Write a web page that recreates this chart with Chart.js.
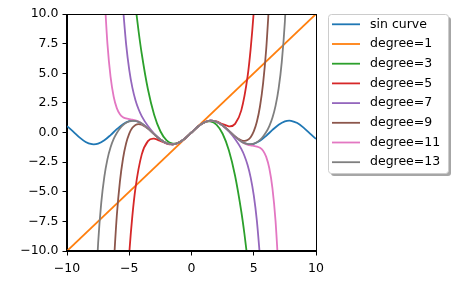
<!DOCTYPE html>
<html>
<head>
<meta charset="utf-8">
<script src="https://cdn.jsdelivr.net/npm/chart.js@4/dist/chart.umd.min.js"></script>
<style>
  html, body { margin: 0; padding: 0; background: #fff; }
</style>
</head>
<body>
<canvas id="chart" width="465" height="288"></canvas>
<script>
// series labels and colours
const labels = ['sin curve', 'degree=1', 'degree=3', 'degree=5', 'degree=7', 'degree=9', 'degree=11', 'degree=13'];
const colors = ['#1f77b4', '#ff7f0e', '#2ca02c', '#d62728', '#9467bd', '#8c564b', '#e377c2', '#7f7f7f'];

// ticks
const xTicks = [-10, -5, 0, 5, 10];
const xTickLabels = ['\u221210', '\u22125', '0', '5', '10'];
const yTicks = [-10, -7.5, -5, -2.5, 0, 2.5, 5, 7.5, 10];
const yTickLabels = ['\u221210.0', '\u22127.5', '\u22125.0', '\u22122.5', '0.0', '2.5', '5.0', '7.5', '10.0'];

// [x, y] points
const sinCurve = [
    [-10, 0.544], [-9.5, 0.0752], [-9, -0.4121], [-8.5, -0.7985], [-8, -0.9894], [-7.854, -1],
    [-7.5, -0.938], [-7, -0.657], [-6.5, -0.2151], [-6, 0.2794], [-5.5, 0.7055], [-5, 0.9589],
    [-4.7124, 1], [-4.5, 0.9775], [-4, 0.7568], [-3.5, 0.3508], [-3, -0.1411], [-2.5, -0.5985],
    [-2, -0.9093], [-1.5708, -1], [-1.5, -0.9975], [-1, -0.8415], [-0.5, -0.4794], [0, 0],
    [0.5, 0.4794], [1, 0.8415], [1.5, 0.9975], [1.5708, 1], [2, 0.9093], [2.5, 0.5985],
    [3, 0.1411], [3.5, -0.3508], [4, -0.7568], [4.5, -0.9775], [4.7124, -1], [5, -0.9589],
    [5.5, -0.7055], [6, -0.2794], [6.5, 0.2151], [7, 0.657], [7.5, 0.938], [7.854, 1],
    [8, 0.9894], [8.5, 0.7985], [9, 0.4121], [9.5, -0.0752], [10, -0.544]
];
const degree1 = [[-10, -10], [10, 10]];
const degree3 = [
    [-4.5, 10.6875], [-4.25, 8.5443], [-4, 6.6667], [-3.5, 3.6458], [-3, 1.5], [-2.5, 0.1042],
    [-2, -0.6667], [-1.5, -0.9375], [-1.4142, -0.9428], [-1, -0.8333], [-0.5, -0.4792], [0, 0],
    [0.5, 0.4792], [1, 0.8333], [1.4142, 0.9428], [1.5, 0.9375], [2, 0.6667], [2.5, -0.1042],
    [3, -1.5], [3.5, -3.6458], [4, -6.6667], [4.25, -8.5443], [4.5, -10.6875]
];
const degree5 = [
    [-5.25, -14.3693], [-5, -10.2083], [-4.75, -7.0386], [-4.5, -4.6898], [-4, -1.8667], [-3.5, -0.731],
    [-3.0764, -0.5203], [-3, -0.525], [-2.5, -0.7096], [-2, -0.9333], [-1.5923, -1.0047], [-1.5, -1.0008],
    [-1, -0.8417], [-0.5, -0.4794], [0, 0],
    [0.5, 0.4794], [1, 0.8417], [1.5, 1.0008], [1.5923, 1.0047], [2, 0.9333], [2.5, 0.7096],
    [3, 0.525], [3.0764, 0.5203], [3.5, 0.731], [4, 1.8667], [4.5, 4.6898], [4.75, 7.0386],
    [5, 10.2083], [5.25, 14.3693]
];
const degree7 = [
    [-5.5, 10.4959], [-5.25, 7.4421], [-5, 5.2927], [-4.75, 3.7864], [-4.5, 2.7242], [-4.25, 1.9588],
    [-4, 1.3841], [-3.5, 0.5456], [-3, -0.0911], [-2.5, -0.5885], [-2, -0.9079], [-1.5, -0.9974],
    [-1, -0.8415], [-0.5, -0.4794], [0, 0],
    [0.5, 0.4794], [1, 0.8415], [1.5, 0.9974], [2, 0.9079], [2.5, 0.5885], [3, 0.0911],
    [3.5, -0.5456], [4, -1.3841], [4.25, -1.9588], [4.5, -2.7242], [4.75, -3.7864], [5, -5.2927],
    [5.25, -7.4421], [5.5, -10.4959]
];
const degree9 = [
    [-6.25, -11.2195], [-6, -7.0283], [-5.75, -4.1455], [-5.5, -2.1953], [-5.25, -0.9076], [-5, -0.0896],
    [-4.75, 0.3942], [-4.5, 0.639], [-4.25, 0.7121], [-4, 0.6617], [-3.5, 0.3284], [-3, -0.1453],
    [-2.5, -0.5991], [-2, -0.9094], [-1.5, -0.9975], [-1, -0.8415], [-0.5, -0.4794], [0, 0],
    [0.5, 0.4794], [1, 0.8415], [1.5, 0.9975], [2, 0.9094], [2.5, 0.5991], [3, 0.1453],
    [3.5, -0.3284], [4, -0.6617], [4.25, -0.7121], [4.5, -0.639], [4.75, -0.3942], [5, 0.0896],
    [5.25, 0.9076], [5.5, 2.1953], [5.75, 4.1455], [6, 7.0283], [6.25, 11.2195]
];
const degree11 = [
    [-7, 11.8423], [-6.75, 7.4538], [-6.5, 4.6924], [-6.25, 3.021], [-6, 2.0605], [-5.75, 1.5456],
    [-5.5, 1.2948], [-5.25, 1.1846], [-5, 1.1336], [-4.75, 1.09], [-4.5, 1.0229], [-4.25, 0.9168],
    [-4, 0.7668], [-3.5, 0.3526], [-3, -0.1409], [-2.5, -0.5985], [-2, -0.9093], [-1.5, -0.9975],
    [-1, -0.8415], [-0.5, -0.4794], [0, 0],
    [0.5, 0.4794], [1, 0.8415], [1.5, 0.9975], [2, 0.9093], [2.5, 0.5985], [3, 0.1409],
    [3.5, -0.3526], [4, -0.7668], [4.25, -0.9168], [4.5, -1.0229], [4.75, -1.09], [5, -1.1336],
    [5.25, -1.1846], [5.5, -1.2948], [5.75, -1.5456], [6, -2.0605], [6.25, -3.021], [6.5, -4.6924],
    [6.75, -7.4538], [7, -11.8423]
];
const degree13 = [
    [-7.75, -14.5816], [-7.5, -9.3495], [-7.25, -5.944], [-7, -3.7172], [-6.75, -2.244], [-6.5, -1.245],
    [-6.25, -0.5448], [-6, -0.0369], [-5.75, 0.3395], [-5.5, 0.618], [-5.25, 0.815], [-5, 0.9376],
    [-4.75, 0.9893], [-4.5, 0.9731], [-4.25, 0.8931], [-4, 0.756], [-3.5, 0.3507], [-3, -0.1411],
    [-2.5, -0.5985], [-2, -0.9093], [-1.5, -0.9975], [-1, -0.8415], [-0.5, -0.4794], [0, 0],
    [0.5, 0.4794], [1, 0.8415], [1.5, 0.9975], [2, 0.9093], [2.5, 0.5985], [3, 0.1411],
    [3.5, -0.3507], [4, -0.756], [4.25, -0.8931], [4.5, -0.9731], [4.75, -0.9893], [5, -0.9376],
    [5.25, -0.815], [5.5, -0.618], [5.75, -0.3395], [6, 0.0369], [6.25, 0.5448], [6.5, 1.245],
    [6.75, 2.244], [7, 3.7172], [7.25, 5.944], [7.5, 9.3495], [7.75, 14.5816]
];
const series = [sinCurve, degree1, degree3, degree5, degree7, degree9, degree11, degree13];

const FONT = { family: 'DejaVu Sans', size: 12.5 };

// box round the plot, drawn above the lines like matplotlib spines
const framePlugin = {
    id: 'frame',
    afterDatasetsDraw(chart) {
        const { ctx, chartArea: a } = chart;
        ctx.save();
        ctx.strokeStyle = '#000';
        ctx.lineWidth = 1;
        ctx.strokeRect(Math.round(a.left) - 0.5, Math.round(a.top) + 0.5,
            Math.round(a.right) - Math.round(a.left) + 1, Math.round(a.bottom) - Math.round(a.top) - 1);
        ctx.restore();
    }
};

// legend outside the axes, with a shadow
const sideLegend = {
    id: 'sideLegend',
    afterDraw(chart) {
        const ctx = chart.ctx;
        const x = 328.5, y = 14.5, w = 120, h = 159, r = 3;
        const box = (bx, by) => {
            ctx.beginPath();
            ctx.moveTo(bx + r, by);
            ctx.lineTo(bx + w - r, by);
            ctx.arcTo(bx + w, by, bx + w, by + r, r);
            ctx.lineTo(bx + w, by + h - r);
            ctx.arcTo(bx + w, by + h, bx + w - r, by + h, r);
            ctx.lineTo(bx + r, by + h);
            ctx.arcTo(bx, by + h, bx, by + h - r, r);
            ctx.lineTo(bx, by + r);
            ctx.arcTo(bx, by, bx + r, by, r);
            ctx.closePath();
        };
        ctx.save();
        box(x + 2.5, y + 2.5);
        ctx.fillStyle = '#a6a6a6';
        ctx.fill();
        box(x, y);
        ctx.fillStyle = '#fff';
        ctx.fill();
        ctx.strokeStyle = '#cccccc';
        ctx.lineWidth = 1;
        ctx.stroke();
        ctx.font = FONT.size + 'px ' + FONT.family;
        ctx.textBaseline = 'middle';
        ctx.textAlign = 'left';
        chart.data.datasets.forEach((ds, i) => {
            const ly = 24.3 + i * 19.7;
            ctx.strokeStyle = ds.borderColor;
            ctx.lineWidth = 1.8;
            ctx.beginPath();
            ctx.moveTo(332, ly);
            ctx.lineTo(360, ly);
            ctx.stroke();
            ctx.fillStyle = '#000';
            ctx.fillText(ds.label, 370, ly);
        });
        ctx.restore();
    }
};

const datasets = series.map((pts, i) => ({
    label: labels[i],
    data: pts.map(p => ({ x: p[0], y: p[1] })),
    borderColor: colors[i],
    backgroundColor: colors[i],
    borderWidth: 1.8,
    pointRadius: 0,
    fill: false,
    cubicInterpolationMode: 'monotone',
    order: series.length - i
}));

new Chart(document.getElementById('chart'), {
    type: 'line',
    data: { datasets: datasets },
    options: {
        responsive: false,
        animation: false,
        events: [],
        layout: { padding: { left: 0, right: 149, top: 14, bottom: 0 } },
        plugins: {
            legend: { display: false },
            tooltip: { enabled: false }
        },
        scales: {
            x: {
                type: 'linear',
                min: -10,
                max: 10,
                afterBuildTicks: scale => { scale.ticks = xTicks.map(v => ({ value: v })); },
                afterFit: scale => { scale.height = 37; },
                ticks: {
                    color: '#000',
                    font: FONT,
                    padding: 5.5,
                    maxRotation: 0,
                    callback: (v, i) => xTickLabels[i]
                },
                grid: { drawOnChartArea: false, drawTicks: true, tickLength: 4.5, tickColor: '#000' },
                border: { display: true, color: '#000', width: 1 }
            },
            y: {
                type: 'linear',
                min: -10,
                max: 10,
                afterBuildTicks: scale => { scale.ticks = yTicks.map(v => ({ value: v })); },
                afterFit: scale => { scale.width = 67; },
                ticks: {
                    color: '#000',
                    font: FONT,
                    padding: 4,
                    callback: (v, i) => yTickLabels[i]
                },
                grid: { drawOnChartArea: false, drawTicks: true, tickLength: 4.5, tickColor: '#000' },
                border: { display: true, color: '#000', width: 1 }
            }
        }
    },
    plugins: [framePlugin, sideLegend]
});
</script>
</body>
</html>
